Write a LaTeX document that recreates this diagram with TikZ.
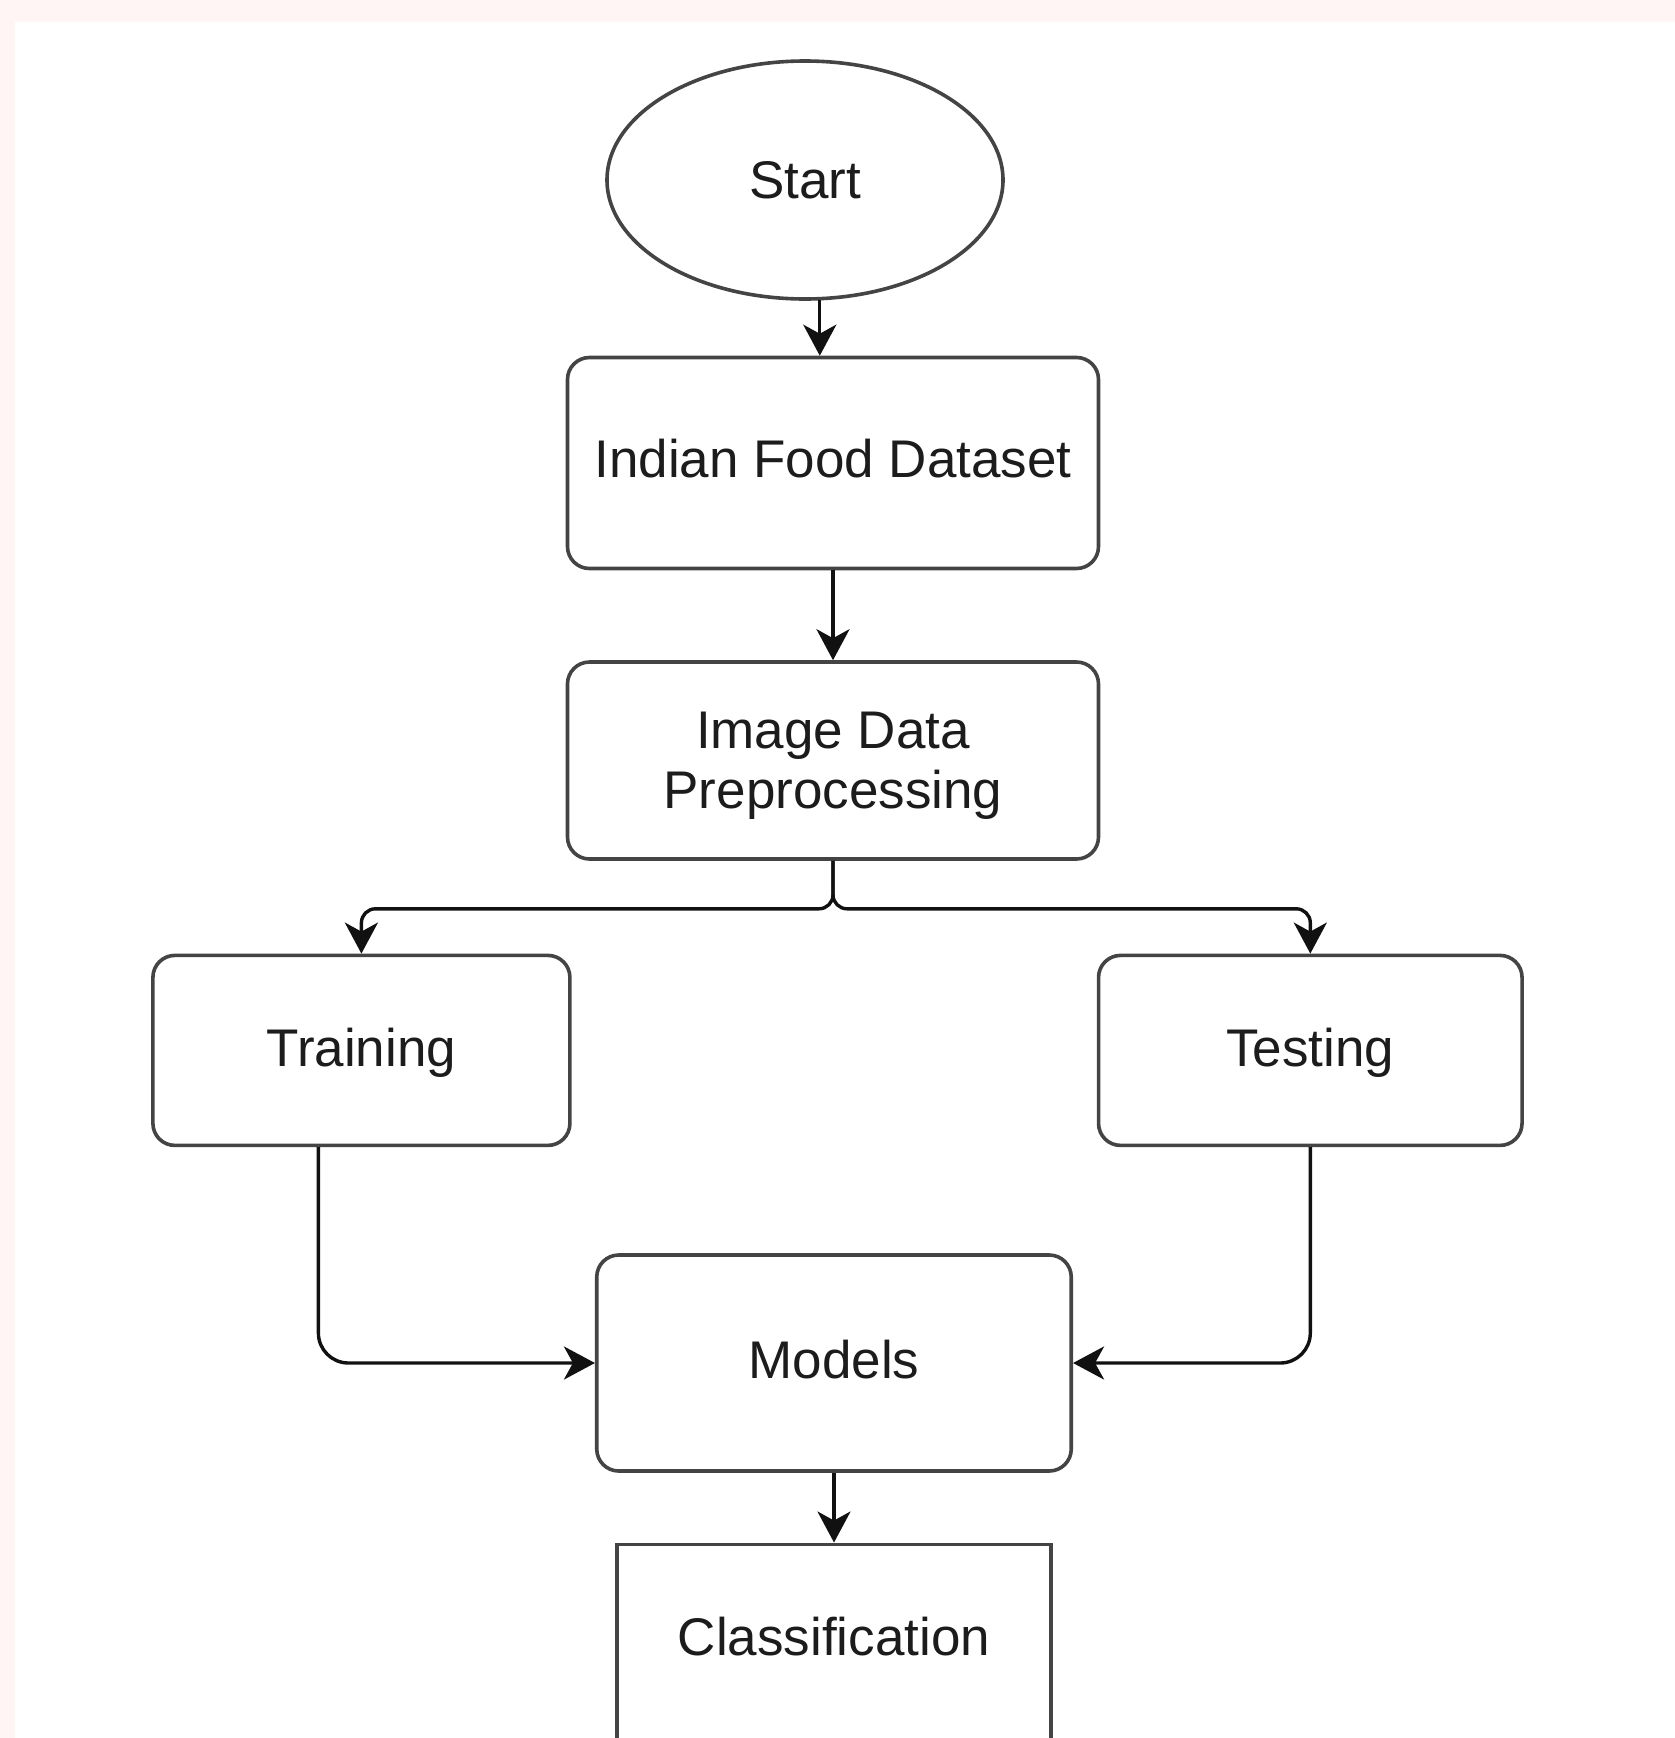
\documentclass[tikz,border=0pt]{standalone}
\usepackage{fontspec}
\setmainfont{Liberation Sans}
\usetikzlibrary{arrows.meta,shapes.geometric}
\definecolor{bgpink}{HTML}{FFF5F5}
\definecolor{boxline}{HTML}{444444}
\definecolor{conline}{HTML}{111111}
\definecolor{txt}{HTML}{1C1C1C}
\tikzset{
  box/.style={draw=boxline, line width=3.6pt, rounded corners=22pt, fill=white,
    text=txt, align=center, inner sep=0pt,
    font=\fontsize{53}{60}\selectfont},
  sharpbox/.style={box, rounded corners=0pt},
  oval/.style={box, ellipse, rounded corners=0pt},
  lbl/.style={text=txt, align=center, inner sep=0pt, font=\fontsize{53}{60}\selectfont},
  arr/.style={draw=conline, line width=3.4pt,
    -{Stealth[length=31pt,width=33pt,inset=9pt]}},
}
\begin{document}
\begin{tikzpicture}[x=1pt,y=-1pt]
\clip (0,0) rectangle (1675,1738);
\fill[bgpink] (0,0) rectangle (1675,1738);
\fill[white] (15,22) rectangle (1675,1738);

\node[oval, minimum width=396pt, minimum height=238pt] (start) at (805,180) {Start};
\node[box, minimum width=531pt, minimum height=211pt] (data) at (833,463) {};
\node[lbl] (datalbl) at (833,459) {Indian Food Dataset};
\node[box, minimum width=531pt, minimum height=197pt] (pre) at (833,760.5) {};
\node[lbl] (prelbl) at (833,766) {Image Data\\Preprocessing};
\node[box, minimum width=417pt, minimum height=190pt] (train) at (361.4,1050.4) {};
\node[lbl] (trainlbl) at (361.4,1053) {Training};
\node[box, minimum width=423.5pt, minimum height=190pt] (test) at (1310.3,1050.4) {};
\node[lbl] (testlbl) at (1310.3,1053) {Testing};
\node[box, minimum width=474.5pt, minimum height=216pt] (models) at (834,1363) {};
\node[lbl] (modelslbl) at (834,1360) {Models};
\node[sharpbox, minimum width=433.5pt, minimum height=250pt] (class) at (834,1669.3) {};
\node[lbl, anchor=base] (classlbl) at (834,1655) {Classification};

\draw[arr] (start.-83) -- (start.-83 |- data.north);
\draw[arr] (data.south) -- (pre.north);
\draw[arr, rounded corners=14pt] (pre.south) -- ++(0,48) -| (train.north);
\draw[arr, rounded corners=14pt] (pre.south) -- ++(0,48) -| (test.north);
\draw[arr, rounded corners=30pt] ([xshift=-43pt]train.south) |- (models.west);
\draw[arr, rounded corners=30pt] (test.south) |- (models.east);
\draw[arr] (models.south) -- (class.north);
\end{tikzpicture}
\end{document}
